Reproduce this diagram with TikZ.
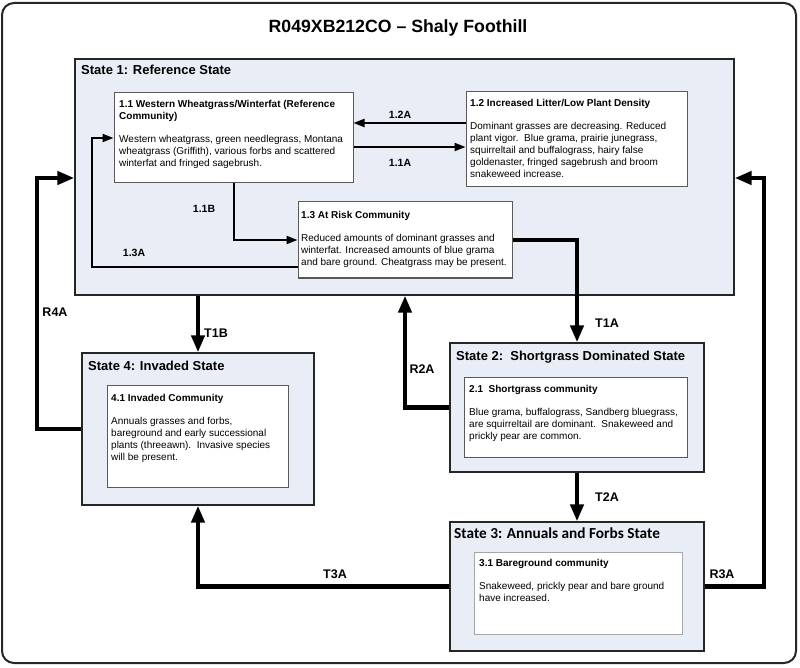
\documentclass[tikz,border=0pt]{standalone}
\usepackage{fontspec}
\setmainfont{Liberation Sans}
\newfontfamily\calfont{Carlito}
\usetikzlibrary{arrows.meta}
\definecolor{sfill}{HTML}{E9EDF5}
\begin{document}
\begin{tikzpicture}[x=1pt,y=-1pt,
  frame/.style={draw=black!85, line width=2pt, rounded corners=12pt},
  state/.style={draw=black!85, line width=1.3pt, fill=sfill, inner sep=0},
  comm/.style={draw=black!65, line width=1pt, fill=white, inner sep=0},
  commlight/.style={draw=black!35, line width=1pt, fill=white, inner sep=0},
  ctext/.style={anchor=north west, inner sep=0, align=left, font=\fontsize{10}{12}\selectfont},
  stitle/.style={anchor=base west, inner sep=0, font=\bfseries\fontsize{13}{15}\selectfont},
  thinarr/.style={line width=2pt, -{Triangle[length=11pt,width=8pt]}},
  thickarr/.style={line width=4.7pt, -{Triangle[length=17pt,width=13pt]}},
  slab/.style={font=\bfseries\fontsize{10.5}{12}\selectfont, inner sep=0},
  tlab/.style={font=\bfseries\fontsize{12.5}{14}\selectfont, inner sep=0}]
\useasboundingbox (0,0) rectangle (800,668);
\draw[frame] (2,3) rectangle (796,663);
\node[font=\bfseries\fontsize{17.7}{20}\selectfont, anchor=base, inner sep=0] (title) at (398,33) {R049XB212CO – Shaly Foothill};

% states
\node[state, minimum width=659pt, minimum height=236pt] (s1) at (404.5,177) {};
\node[state, minimum width=232pt, minimum height=152pt] (s4) at (198,429) {};
\node[state, minimum width=254pt, minimum height=129pt] (s2) at (577,407.5) {};
\node[state, minimum width=254pt, minimum height=129pt] (s3) at (577,586.5) {};

\node[stitle] (t1) at (81,75) {State 1: Reference State};
\node[stitle] (t4) at (88,370) {State 4: Invaded State};
\node[stitle] (t2) at (456,360) {State 2:\ \ Shortgrass Dominated State};
\node[stitle, font=\calfont\bfseries\fontsize{15.3}{17}\selectfont] (t3) at (454,538) {State 3: Annuals and Forbs State};

% communities
\node[comm, minimum width=239pt, minimum height=90pt] (c11) at (233.5,138) {};
\node[comm, minimum width=221pt, minimum height=95pt] (c12) at (576.5,139.5) {};
\node[comm, minimum width=214pt, minimum height=76pt] (c13) at (405,240) {};
\node[comm, minimum width=181pt, minimum height=102pt] (c41) at (197.5,436) {};
\node[comm, minimum width=223pt, minimum height=80pt] (c21) at (575.5,417) {};
\node[commlight, minimum width=208pt, minimum height=82pt] (c31) at (578,593) {};

\node[ctext] (x11) at (119,100) {\textbf{1.1 Western Wheatgrass/Winterfat (Reference}\\\textbf{Community)}\\[11pt]Western wheatgrass, green needlegrass, Montana\\wheatgrass (Griffith), various forbs and scattered\\winterfat and fringed sagebrush.};
\node[ctext] (x12) at (470,99) {\textbf{1.2 Increased Litter/Low Plant Density}\\[11pt]Dominant grasses are decreasing. Reduced\\plant vigor.\ \ Blue grama, prairie junegrass,\\squirreltail and buffalograss, hairy false\\goldenaster, fringed sagebrush and broom\\snakeweed increase.};
\node[ctext] (x13) at (301,211) {\textbf{1.3 At Risk Community}\\[11pt]Reduced amounts of dominant grasses and\\winterfat. Increased amounts of blue grama\\and bare ground. Cheatgrass may be present.};
\node[ctext] (x41) at (111,394) {\textbf{4.1 Invaded Community}\\[11pt]Annuals grasses and forbs,\\bareground and early successional\\plants (threeawn).\ \ Invasive species\\will be present.};
\node[ctext] (x21) at (469,385) {\textbf{2.1\ \ Shortgrass community}\\[11pt]Blue grama, buffalograss, Sandberg bluegrass,\\are squirreltail are dominant.\ \ Snakeweed and\\prickly pear are common.};
\node[ctext] (x31) at (479,559) {\textbf{3.1 Bareground community}\\[11pt]Snakeweed, prickly pear and bare ground\\have increased.};

% connectors inside state 1
\draw[thinarr] (c12.west |- 0,123) -- (c11.east |- 0,123);
\draw[thinarr] (c11.east |- 0,147) -- (c12.west |- 0,147);
\draw[thinarr] (c11.south) |- (c13.west);
\draw[thinarr] (c13.west |- 0,267) -| (92,138) -- (c11.west);
\node[slab] (l12a) at (400,115) {1.2A};
\node[slab] (l11a) at (400,163) {1.1A};
\node[slab] (l11b) at (204,209) {1.1B};
\node[slab] (l13a) at (134,253) {1.3A};

% transitions
\draw[thickarr] (c13.east) -| (s2.north);
\draw[thickarr] (s1.south -| s4.north) -- (s4.north);
\draw[thickarr] (s2.west) -| (s1.south -| 405,0);
\draw[thickarr] (s4.west) -| (37,178) -- (s1.west |- 0,178);
\draw[thickarr] (s3.east) -| (764,178) -- (s1.east |- 0,178);
\draw[thickarr] (s2.south) -- (s3.north);
\draw[thickarr] (s3.west) -| (s4.south);
\node[tlab] (lt1a) at (607,323) {T1A};
\node[tlab] (lt1b) at (216,333) {T1B};
\node[tlab] (lr2a) at (422,369) {R2A};
\node[tlab] (lr4a) at (55,312) {R4A};
\node[tlab] (lt2a) at (607,497) {T2A};
\node[tlab] (lt3a) at (335,574) {T3A};
\node[tlab] (lr3a) at (722,574) {R3A};
\end{tikzpicture}
\end{document}
